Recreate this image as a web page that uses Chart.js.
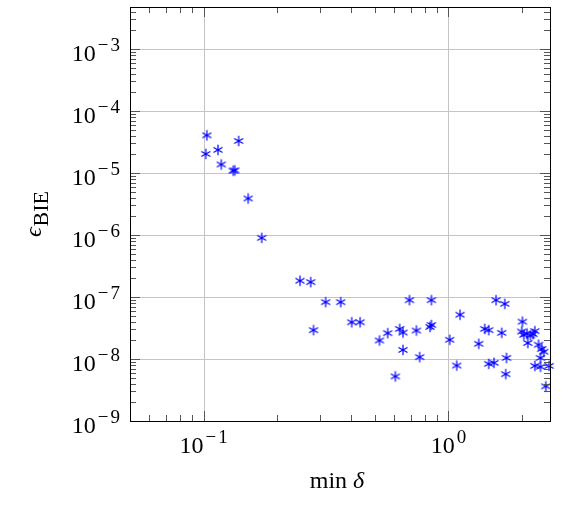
<!DOCTYPE html>
<html>
<head>
<meta charset="utf-8">
<script src="https://cdn.jsdelivr.net/npm/chart.js@4.4.1/dist/chart.umd.min.js"></script>
<style>
  html, body { margin: 0; padding: 0; background: #fff; }
  canvas { display: block; }
</style>
</head>
<body>
<canvas id="scatterchart" width="574" height="512"></canvas>
<script>
// min delta (x) and BIE error (y)
var minDelta = [0.103, 0.139, 0.102, 0.1144, 0.118, 0.132, 0.134, 0.152, 0.1726,
    0.2474, 0.2737, 0.315, 0.363, 0.281, 0.4026, 0.4355, 0.5226, 0.565, 0.632,
    0.652, 0.652, 0.607, 0.693, 0.740, 0.763, 0.852, 0.852, 0.841, 1.012, 1.115,
    1.081, 1.330, 1.407, 1.461, 1.461, 1.536, 1.565, 1.699, 1.651, 1.726, 1.714,
    2.006, 1.993, 2.032, 2.095, 2.163, 2.109, 2.254, 2.217, 2.334, 2.405, 2.452,
    2.377, 2.254, 2.377, 2.578, 2.499];
var errBIE = [4.04e-5, 3.28e-5, 2.03e-5, 2.36e-5, 1.37e-5, 1.09e-5, 1.10e-5, 3.88e-6, 9.0e-7,
    1.83e-7, 1.74e-7, 8.26e-8, 8.26e-8, 2.92e-8, 3.91e-8, 3.91e-8, 1.99e-8, 2.61e-8, 3.06e-8,
    2.67e-8, 1.40e-8, 5.24e-9, 8.89e-8, 2.88e-8, 1.07e-8, 8.89e-8, 3.54e-8, 3.29e-8, 2.04e-8, 5.18e-8,
    7.85e-9, 1.76e-8, 3.06e-8, 2.92e-8, 8.35e-9, 8.66e-9, 8.89e-8, 7.76e-8, 2.64e-8, 1.04e-8, 5.70e-9,
    4.0e-8, 2.77e-8, 2.45e-8, 2.57e-8, 2.39e-8, 1.81e-8, 2.81e-8, 2.52e-8, 1.70e-8, 1.45e-8, 1.31e-8,
    1.04e-8, 7.76e-9, 7.48e-9, 7.76e-9, 3.62e-9];

// tick exponents
var xExps = [-1, 0];
var yExps = [-9, -8, -7, -6, -5, -4, -3];
var xRange = [0.05, 2.6];
var yRange = [1e-9, 4.75e-3];

var points = minDelta.map(function (x, i) { return { x: x, y: errBIE[i] }; });

// asterisk marker like pgfplots "*"
function asterisk(color) {
    var c = document.createElement('canvas');
    c.width = 14; c.height = 14;
    var g = c.getContext('2d');
    var r = 5.2;
    g.strokeStyle = color;
    g.lineWidth = 1.2;
    g.beginPath();
    [90, 30, 150].forEach(function (deg) {
        var a = deg * Math.PI / 180;
        g.moveTo(7 + r * Math.cos(a), 7 - r * Math.sin(a));
        g.lineTo(7 - r * Math.cos(a), 7 + r * Math.sin(a));
    });
    g.stroke();
    return c;
}

var serif = '"Liberation Serif", "Times New Roman", serif';

// "10" with a raised exponent, minus and digits drawn apart a little
function powLabel(ctx, x, y, exp, align) {
    var minus = exp < 0 ? '\u2212' : '', digit = String(Math.abs(exp));
    ctx.font = '24px ' + serif;
    var wb = ctx.measureText('10').width;
    ctx.font = '19px ' + serif;
    var wm = minus ? ctx.measureText(minus).width + 2 : 0;
    var wd = ctx.measureText(digit).width;
    var total = wb + 2 + wm + wd;
    var left = align === 'right' ? x - total : x - total / 2;
    ctx.textAlign = 'left';
    ctx.textBaseline = 'alphabetic';
    ctx.font = '24px ' + serif;
    ctx.fillText('10', left, y);
    ctx.font = '19px ' + serif;
    if (minus) ctx.fillText(minus, left + wb + 2, y - 10);
    ctx.fillText(digit, left + wb + 2 + wm, y - 10);
}

var frame = {
    id: 'frame',
    beforeDatasetsDraw: function (chart) {
        var ctx = chart.ctx, a = chart.chartArea;
        var xs = chart.scales.x, ys = chart.scales.y;
        ctx.save();
        ctx.strokeStyle = '#c4c4c4';
        ctx.lineWidth = 1;
        ctx.beginPath();
        xExps.forEach(function (e) {
            var px = Math.round(xs.getPixelForValue(Math.pow(10, e))) + 0.5;
            ctx.moveTo(px, a.top); ctx.lineTo(px, a.bottom);
        });
        yExps.forEach(function (e) {
            var py = Math.round(ys.getPixelForValue(Math.pow(10, e))) + 0.5;
            ctx.moveTo(a.left, py); ctx.lineTo(a.right, py);
        });
        ctx.stroke();
        ctx.restore();
    },
    afterDatasetsDraw: function (chart) {
        var ctx = chart.ctx, a = chart.chartArea;
        var xs = chart.scales.x, ys = chart.scales.y;
        ctx.save();
        ctx.strokeStyle = '#555';
        ctx.lineWidth = 1;
        ctx.beginPath();
        // x ticks, inside, top and bottom
        for (var e = -2; e <= 0; e++) {
            for (var m = 1; m <= 9; m++) {
                var v = m * Math.pow(10, e);
                if (v < xRange[0] || v > xRange[1]) continue;
                var len = m === 1 ? 10 : 6;
                var px = Math.round(xs.getPixelForValue(v)) + 0.5;
                ctx.moveTo(px, a.bottom); ctx.lineTo(px, a.bottom - len);
                ctx.moveTo(px, a.top); ctx.lineTo(px, a.top + len);
            }
        }
        // y ticks, inside, left and right
        for (var k = -9; k <= -3; k++) {
            for (var n = 1; n <= 9; n++) {
                var w = n * Math.pow(10, k);
                if (w < yRange[0] || w > yRange[1]) continue;
                var l2 = n === 1 ? 10 : 6;
                var py = Math.round(ys.getPixelForValue(w)) + 0.5;
                ctx.moveTo(a.left, py); ctx.lineTo(a.left + l2, py);
                ctx.moveTo(a.right, py); ctx.lineTo(a.right - l2, py);
            }
        }
        ctx.stroke();
        ctx.strokeStyle = '#000';
        ctx.strokeRect(Math.round(a.left) + 0.5, Math.round(a.top) + 0.5,
            Math.round(a.right - a.left), Math.round(a.bottom - a.top));

        // tick labels
        ctx.fillStyle = '#000';
        xExps.forEach(function (e) {
            powLabel(ctx, xs.getPixelForValue(Math.pow(10, e)), a.bottom + 32, e, 'center');
        });
        yExps.forEach(function (e) {
            powLabel(ctx, a.left - 10, ys.getPixelForValue(Math.pow(10, e)) + 12, e, 'right');
        });

        // x title: min δ
        ctx.font = '24px ' + serif;
        var w1 = ctx.measureText('min ').width;
        ctx.font = 'italic 24px ' + serif;
        var w2 = ctx.measureText('\u03b4').width;
        var cx = (a.left + a.right) / 2 - 3 - (w1 + w2) / 2;
        ctx.textAlign = 'left';
        ctx.font = '24px ' + serif;
        ctx.fillText('min ', cx, 488);
        ctx.font = 'italic 24px ' + serif;
        ctx.fillText('\u03b4', cx + w1, 488);

        // y title: epsilon_BIE
        ctx.translate(41, 214);
        ctx.rotate(-Math.PI / 2);
        ctx.font = 'italic 24px ' + serif;
        var we = ctx.measureText('\u03f5').width;
        ctx.font = '22px ' + serif;
        var wb = ctx.measureText('BIE').width;
        var sx = -(we + wb + 1) / 2;
        ctx.font = 'italic 24px ' + serif;
        ctx.fillText('\u03f5', sx, 0);
        ctx.font = '22px ' + serif;
        ctx.fillText('BIE', sx + we + 1, 7);
        ctx.restore();
    }
};

function drawChart() {
    var chart1 = document.getElementById('scatterchart');
    return new Chart(chart1, {
        type: 'scatter',
        data: {
            datasets: [{
                data: points,
                pointStyle: asterisk('rgb(0, 0, 255)'),
                pointRadius: 6,
                clip: false
            }]
        },
        options: {
            responsive: false,
            animation: false,
            layout: {
                padding: { left: 130, right: 24, top: 3, bottom: 91 }
            },
            scales: {
                x: { type: 'logarithmic', display: false, min: xRange[0], max: xRange[1] },
                y: { type: 'logarithmic', display: false, min: yRange[0], max: yRange[1] }
            },
            plugins: {
                legend: { display: false },
                tooltip: { enabled: false }
            }
        },
        plugins: [frame]
    });
}

Promise.all([
    document.fonts.load('24px "Liberation Serif"'),
    document.fonts.load('italic 24px "Liberation Serif"')
]).then(drawChart, drawChart);
</script>
</body>
</html>
